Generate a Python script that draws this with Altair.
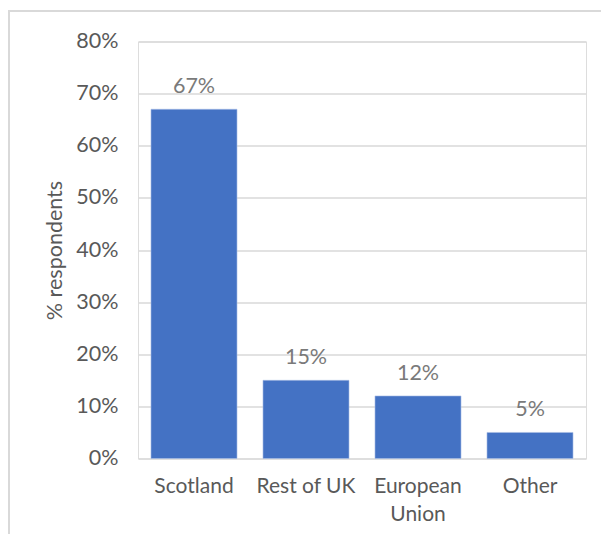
import altair as alt
import pandas as pd

categories = ["Scotland", "Rest of UK", "European Union", "Other"]
values = [0.67, 0.15, 0.12, 0.05]
labels = ["67%", "15%", "12%", "5%"]

df = pd.DataFrame({"cat": categories, "val": values, "lab": labels})

FONT = "Lato"

x = alt.X(
    "cat:N",
    sort=categories,
    title=None,
    scale=alt.Scale(paddingInner=0.232, paddingOuter=0.116),
    axis=alt.Axis(
        labelAngle=0,
        labelFont=FONT,
        labelFontSize=21,
        labelColor="#595959",
        labelPadding=17,
        labelLineHeight=28,
        labelExpr="datum.label == 'European Union' ? ['European', 'Union'] : datum.label",
        domain=False,
        ticks=False,
        grid=False,
    ),
)
y = alt.Y(
    "val:Q",
    title="% respondents",
    scale=alt.Scale(domain=[0, 0.8]),
    axis=alt.Axis(
        format=".0%",
        values=[0, 0.1, 0.2, 0.3, 0.4, 0.5, 0.6, 0.7, 0.8],
        labelFont=FONT,
        labelFontSize=21.5,
        labelColor="#595959",
        labelPadding=20,
        titleFont=FONT,
        titleFontSize=21.5,
        titleFontWeight="normal",
        titleColor="#595959",
        titlePadding=9,
        domain=False,
        ticks=False,
        gridColor="#d9d9d9",
        gridWidth=1.5,
    ),
)

frame = alt.Chart(df).mark_rect(fill=None, stroke="#d9d9d9", strokeWidth=2).encode(
    x=alt.value(-129), x2=alt.value(470), y=alt.value(-30.5), y2=alt.value(500)
)

bars = alt.Chart(df).mark_bar(color="#4472C4", stroke="#a9bde6", strokeWidth=0.6).encode(x=x, y=y)

text = alt.Chart(df).mark_text(
    font=FONT, fontSize=21.5, color="#7a7a7a", baseline="alphabetic", dy=-16
).encode(x=alt.X("cat:N", sort=categories), y="val:Q", text="lab:N")

chart = (
    alt.layer(frame, bars, text)
    .properties(
        width=448,
        height=417,
        autosize=alt.AutoSizeParams(type="none"),
        padding={"left": 138, "top": 41.5, "right": 15, "bottom": 75},
    )
    .configure_view(stroke=None)
    .configure(background="white")
)

chart.save("out.html", embed_options={"renderer": "svg", "actions": False})
